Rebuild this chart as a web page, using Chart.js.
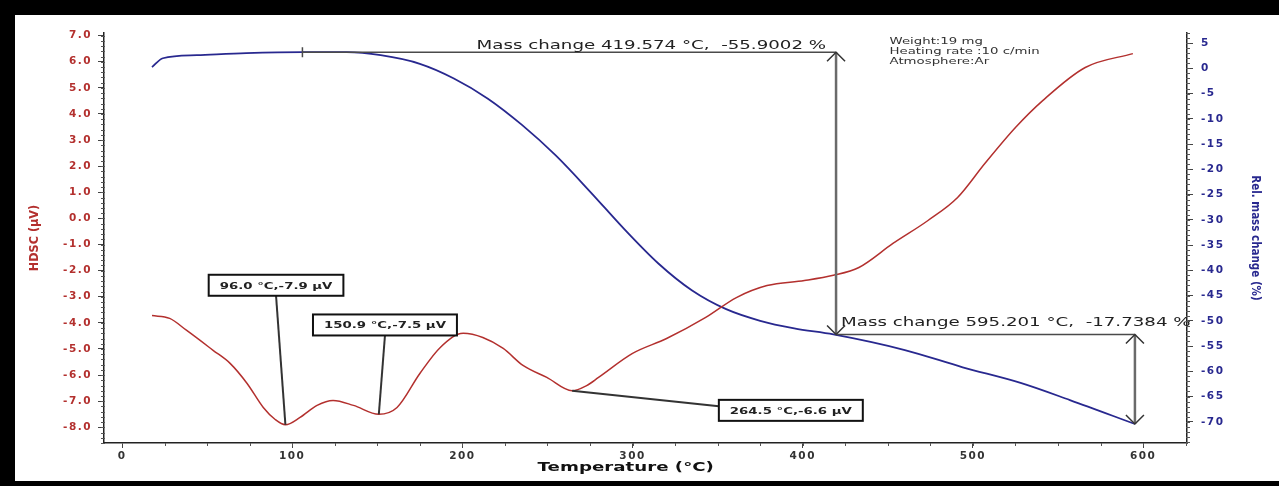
<!DOCTYPE html>
<html>
<head>
<meta charset="utf-8">
<script src="https://cdn.jsdelivr.net/npm/chart.js@4"></script>
<style>
    body { margin: 0; background: #000; width: 1279px; height: 486px; overflow: hidden; }
    #frame { position: absolute; left: 15px; top: 15px; width: 1264px; height: 466px; background: #fff; }
</style>
</head>
<body>
<div id="frame"><canvas id="tga_chart" width="1264" height="466"></canvas></div>
<script>
// HDSC curve (left axis, µV)
const temps_hdsc = [17.6, 28, 38, 53.5, 63.5, 73.5, 83, 90, 96, 104.6, 114.6, 124, 136, 150.9, 161.6, 175, 187, 200.5, 212, 224, 235.6, 249.6, 264.5, 273, 280, 300, 320, 343, 361, 379, 401, 418, 433, 453, 473.6, 491, 507, 525, 541, 566, 594];
const hdsc_values = [-3.72, -3.83, -4.29, -5.05, -5.55, -6.32, -7.24, -7.7, -7.9, -7.62, -7.16, -6.97, -7.16, -7.5, -7.24, -5.94, -4.94, -4.40, -4.56, -4.98, -5.63, -6.09, -6.6, -6.4, -6.09, -5.17, -4.6, -3.79, -3.03, -2.57, -2.38, -2.18, -1.88, -0.96, -0.08, 0.80, 2.10, 3.48, 4.51, 5.78, 6.31];

// relative mass change curve (right axis, %)
const temps_mass = [17.6, 24, 44, 73, 106, 132, 152, 175, 195, 215, 235, 255, 275, 295, 315, 335, 355, 375, 395, 418, 460, 494, 528, 557, 595.2];
const mass_values = [0.25, 2.0, 2.6, 3.0, 3.2, 3.2, 2.6, 0.9, -2.0, -6.0, -11.2, -17.3, -24.4, -31.8, -38.6, -44.0, -47.7, -50.0, -51.5, -52.7, -55.8, -59.2, -62.3, -65.7, -70.44];

// tick labels
const x_ticks = [0, 100, 200, 300, 400, 500, 600];
const hdsc_ticks = [-8, -7, -6, -5, -4, -3, -2, -1, 0, 1, 2, 3, 4, 5, 6, 7];
const mass_ticks = [-70, -65, -60, -55, -50, -45, -40, -35, -30, -25, -20, -15, -10, -5, 0, 5];

// peak annotations
const peak_temps = [96.0, 150.9, 264.5];
const peak_values = [-7.9, -7.5, -6.6];
const peak_labels = ["96.0 °C,-7.9 µV", "150.9 °C,-7.5 µV", "264.5 °C,-6.6 µV"];

// mass change steps
const step_temps = [106, 419.574, 595.201];
const step_values = [3.2, -52.7, -70.44];
const step_labels = ["Mass change 419.574 °C,  -55.9002 %", "Mass change 595.201 °C,  -17.7384 %"];

const info_lines = ["Weight:19 mg", "Heating rate :10 c/min", "Atmosphere:Ar"];

const red_colour = "#b3302e";
const blue_colour = "#28288f";
const grey_colour = "#4a4a4a";
const text_stretch = 1.4; // the original picture is stretched sideways

// where the peak boxes sit (data coords) and where their leader line starts
const peak_boxes = [
    { x: 90.5, y: -2.56, anchor: "bottom" },
    { x: 154.5, y: -4.08, anchor: "bottom" },
    { x: 393, y: -7.35, anchor: "left" }
];

function toPoints(xs, ys) {
    return xs.map((x, i) => ({ x: x, y: ys[i] }));
}

function arrowHead(ctx, x, y, dir) {
    ctx.beginPath();
    ctx.moveTo(x - 9, y + 9 * dir);
    ctx.lineTo(x, y);
    ctx.lineTo(x + 9, y + 9 * dir);
    ctx.stroke();
}

// text widened sideways, anchored at x with the given alignment
function stretchedText(ctx, text, x, y, align) {
    let w = ctx.measureText(text).width * text_stretch;
    let left = align === "right" ? x - w : align === "center" ? x - w / 2 : x;
    ctx.save();
    ctx.translate(left, y);
    ctx.scale(text_stretch, 1);
    ctx.textAlign = "left";
    ctx.fillText(text, 0, 0);
    ctx.restore();
    return w;
}

const minor_ticks_plugin = {
    id: "minor_ticks",
    afterDraw(chart) {
        const ctx = chart.ctx;
        const area = chart.chartArea;
        const x = chart.scales.x;
        const yh = chart.scales.y_hdsc;
        const ym = chart.scales.y_mass;
        ctx.save();
        ctx.strokeStyle = "#555";
        ctx.lineWidth = 1;
        ctx.beginPath();
        for (let v = -8.6; v <= 7.1; v += 0.2) {
            let py = Math.round(yh.getPixelForValue(v)) + 0.5;
            ctx.moveTo(area.left - 3, py);
            ctx.lineTo(area.left + 1, py);
        }
        for (let v = -74; v <= 7; v += 1) {
            let py = Math.round(ym.getPixelForValue(v)) + 0.5;
            ctx.moveTo(area.right - 1, py);
            ctx.lineTo(area.right + 3, py);
        }
        for (let v = 25; v <= 625; v += 25) {
            let px = Math.round(x.getPixelForValue(v)) + 0.5;
            ctx.moveTo(px, area.bottom);
            ctx.lineTo(px, area.bottom + 3);
        }
        ctx.stroke();
        ctx.restore();
    }
};

const annotations_plugin = {
    id: "annotations",
    afterDatasetsDraw(chart) {
        const ctx = chart.ctx;
        const x = chart.scales.x;
        const yh = chart.scales.y_hdsc;
        const ym = chart.scales.y_mass;
        const area = chart.chartArea;
        ctx.save();

        // mass change steps
        let p0 = { x: x.getPixelForValue(step_temps[0]), y: ym.getPixelForValue(step_values[0]) };
        let p1 = { x: x.getPixelForValue(step_temps[1]), y: ym.getPixelForValue(step_values[0]) };
        let p2 = { x: x.getPixelForValue(step_temps[1]), y: ym.getPixelForValue(step_values[1]) };
        let p3 = { x: x.getPixelForValue(step_temps[2]), y: ym.getPixelForValue(step_values[1]) };
        let p4 = { x: x.getPixelForValue(step_temps[2]), y: ym.getPixelForValue(step_values[2]) };

        ctx.strokeStyle = grey_colour;
        ctx.lineWidth = 1.5;
        ctx.beginPath();
        ctx.moveTo(p0.x, p0.y); ctx.lineTo(p1.x, p1.y);
        ctx.moveTo(p2.x, p2.y); ctx.lineTo(p3.x, p3.y);
        ctx.moveTo(p0.x, p0.y - 5); ctx.lineTo(p0.x, p0.y + 5);
        ctx.stroke();

        ctx.lineWidth = 2.5;
        ctx.strokeStyle = "#6a6a6a";
        ctx.beginPath();
        ctx.moveTo(p1.x, p1.y); ctx.lineTo(p2.x, p2.y);
        ctx.moveTo(p3.x, p3.y); ctx.lineTo(p4.x, p4.y);
        ctx.stroke();

        ctx.strokeStyle = "#333";
        ctx.lineWidth = 1.5;
        arrowHead(ctx, p1.x, p1.y, 1);
        arrowHead(ctx, p2.x, p2.y, -1);
        arrowHead(ctx, p3.x, p3.y, 1);
        arrowHead(ctx, p4.x, p4.y, -1);

        ctx.fillStyle = "#222";
        ctx.font = "13px 'DejaVu Sans', sans-serif";
        ctx.textBaseline = "alphabetic";
        stretchedText(ctx, step_labels[0], p1.x - 10, p1.y - 3, "right");
        stretchedText(ctx, step_labels[1], p2.x + 5, p2.y - 8, "left");

        // info text
        ctx.font = "9.5px 'DejaVu Sans', sans-serif";
        ctx.fillStyle = "#333";
        info_lines.forEach((line, i) => {
            stretchedText(ctx, line, x.getPixelForValue(451), area.top + 11 + i * 10, "left");
        });

        // peak boxes with leader lines
        ctx.font = "bold 9.5px 'DejaVu Sans', sans-serif";
        peak_temps.forEach((t, i) => {
            let box = peak_boxes[i];
            let cx = x.getPixelForValue(box.x);
            let cy = yh.getPixelForValue(box.y);
            let w = ctx.measureText(peak_labels[i]).width * text_stretch + 22;
            let h = 21;
            let start = box.anchor === "bottom" ? { x: cx, y: cy + h / 2 } : { x: cx - w / 2, y: cy - 4 };
            let target = { x: x.getPixelForValue(t), y: yh.getPixelForValue(peak_values[i]) };

            ctx.strokeStyle = "#333";
            ctx.lineWidth = 2;
            ctx.beginPath();
            ctx.moveTo(start.x, start.y);
            ctx.lineTo(target.x, target.y);
            ctx.stroke();

            ctx.fillStyle = "#fff";
            ctx.fillRect(cx - w / 2, cy - h / 2, w, h);
            ctx.strokeStyle = "#111";
            ctx.lineWidth = 2;
            ctx.strokeRect(cx - w / 2, cy - h / 2, w, h);
            ctx.fillStyle = "#222";
            ctx.textBaseline = "middle";
            stretchedText(ctx, peak_labels[i], cx, cy + 1, "center");
        });

        // x axis title, sits a little left of the axis centre in the original
        ctx.font = "bold 13px 'DejaVu Sans', sans-serif";
        ctx.fillStyle = "#111";
        ctx.textBaseline = "middle";
        stretchedText(ctx, "Temperature (°C)", x.getPixelForValue(296), area.bottom + 25, "center");

        ctx.restore();
        // the tick labels (drawn next, on layer z=1) get wider spacing
        ctx.letterSpacing = "1.5px";
    },
    afterDraw(chart) {
        chart.ctx.letterSpacing = "0px";
    }
};

const tick_font = { size: 10.5, family: "'DejaVu Sans', sans-serif", weight: "bold" };
const condensed = "'DejaVu Sans Condensed', 'DejaVu Sans', sans-serif";

new Chart(document.getElementById("tga_chart").getContext("2d"), {
    type: "line",
    data: {
        datasets: [{
            label: "HDSC",
            data: toPoints(temps_hdsc, hdsc_values),
            yAxisID: "y_hdsc",
            borderColor: red_colour,
            borderWidth: 1.5,
            pointRadius: 0,
            cubicInterpolationMode: "monotone",
            fill: false
        }, {
            label: "Rel. mass change",
            data: toPoints(temps_mass, mass_values),
            yAxisID: "y_mass",
            borderColor: blue_colour,
            borderWidth: 1.8,
            pointRadius: 0,
            cubicInterpolationMode: "monotone",
            fill: false
        }]
    },
    options: {
        responsive: false,
        animation: false,
        layout: { padding: { top: 18, left: 0, right: 0, bottom: 0 } },
        plugins: { legend: { display: false }, tooltip: { enabled: false } },
        scales: {
            x: {
                type: "linear",
                min: -10.6,
                max: 625.8,
                afterBuildTicks: scale => { scale.ticks = x_ticks.map(v => ({ value: v })); },
                afterFit: scale => { scale.height = 38; },
                ticks: { font: tick_font, color: "#333", padding: 2, maxRotation: 0, autoSkip: false, z: 1 },
                grid: { drawOnChartArea: false, tickLength: 5, color: "#444" },
                border: { color: "#222", width: 1.5 },
                title: { display: false }
            },
            y_hdsc: {
                type: "linear",
                position: "left",
                min: -8.6,
                max: 7.1,
                afterBuildTicks: scale => { scale.ticks = hdsc_ticks.map(v => ({ value: v })); },
                afterFit: scale => { scale.width = 89; },
                ticks: { font: tick_font, color: red_colour, padding: 6, z: 1, callback: v => v.toFixed(1) },
                grid: { drawOnChartArea: false, tickLength: 6, color: "#444" },
                border: { color: "#222", width: 1.5 },
                title: {
                    display: true,
                    text: "HDSC (µV)",
                    color: red_colour,
                    font: { size: 12.5, family: condensed, weight: "bold" },
                    padding: { top: 12, bottom: 0 }
                }
            },
            y_mass: {
                type: "linear",
                position: "right",
                min: -74.2,
                max: 7.0,
                afterBuildTicks: scale => { scale.ticks = mass_ticks.map(v => ({ value: v })); },
                afterFit: scale => { scale.width = 92; },
                ticks: { font: tick_font, color: blue_colour, padding: 8, z: 1 },
                grid: { drawOnChartArea: false, tickLength: 6, color: "#444" },
                border: { color: "#222", width: 1.5 },
                title: {
                    display: true,
                    text: "Rel. mass change (%)",
                    color: blue_colour,
                    font: { size: 11.5, family: condensed, weight: "bold" },
                    padding: { top: 17, bottom: 0 }
                }
            }
        }
    },
    plugins: [minor_ticks_plugin, annotations_plugin]
});
</script>
</body>
</html>
